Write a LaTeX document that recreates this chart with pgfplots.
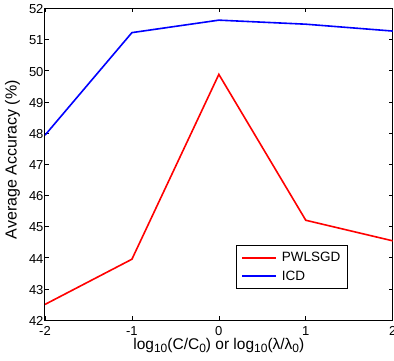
\documentclass[border=0pt]{standalone}
\usepackage{pgfplots}
\pgfplotsset{compat=1.18}
\usepackage{fontspec}
\setmainfont{Liberation Sans}
\newcommand{\sub}[1]{\raisebox{-0.45ex}{\fontsize{12}{12}\selectfont #1}}
\begin{document}
\begin{tikzpicture}
\begin{axis}[
  name=ax,
  at={(0,0)}, anchor=south west,
  scale only axis,
  width=347.7pt, height=311.7pt,
  xmin=-2, xmax=2, ymin=42, ymax=52,
  xtick={-2,-1,0,1,2}, ytick={42,43,...,52},
  tick align=inside,
  major tick length=4pt,
  tick style={black, line width=0.6pt},
  axis line style={black, line width=1pt},
  /pgf/number format/assume math mode=true,
  ticklabel style={font=\fontsize{13}{15}\selectfont},
  xticklabel style={yshift=-3pt},
  yticklabel style={xshift=2pt, yshift=-1pt},
  xtick pos=both, ytick pos=both,
  xlabel={log\sub{10}(C/C\sub{0}) or log\sub{10}(λ/λ\sub{0})},
  xlabel style={font=\fontsize{15.5}{18}\selectfont, at={(axis description cs:0.5,0)}, anchor=base, yshift=-29pt},
  ylabel={Average Accuracy (\%)},
  ylabel style={font=\fontsize{16}{18}\selectfont, at={(axis description cs:-0.0935,0.514)}, anchor=center},
  legend style={at={(0.549,0.2406)}, anchor=north west, font=\fontsize{13.5}{15}\selectfont,
    draw=black, line width=0.7pt, inner xsep=5pt, inner ysep=5pt, row sep=3.5pt, column sep=3pt},
  legend cell align=left,
  legend image code/.code={\draw[mark repeat=2,mark phase=2,#1] plot coordinates {(0pt,0pt) (17pt,0pt) (34pt,0pt)};},
  every legend image post/.append style={line width=1.6pt},
]
\addplot[red, line width=1.6pt] coordinates {(-2,42.5) (-1,43.95) (0,49.88) (1,45.2) (2,44.54)};
\addlegendentry{PWLSGD}
\addplot[blue, line width=1.6pt] coordinates {(-2,47.93) (-1,51.22) (0,51.62) (1,51.49) (2,51.27)};
\addlegendentry{ICD}
\end{axis}
\pgfresetboundingbox
\path (-45pt,-40pt) rectangle (349pt,320pt);
\end{tikzpicture}
\end{document}
